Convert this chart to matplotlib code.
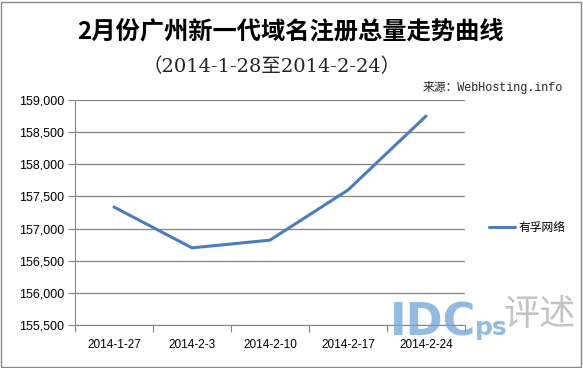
import matplotlib
matplotlib.use("Agg")
import matplotlib.pyplot as plt
from matplotlib.ticker import FuncFormatter, FixedLocator
import numpy as np

categories = ["2014-1-27", "2014-2-3", "2014-2-10", "2014-2-17", "2014-2-24"]
values = [157335, 156700, 156820, 157600, 158750]
series_name = "有孚网络"
yticks = [155500, 156000, 156500, 157000, 157500, 158000, 158500, 159000]

CJK = ["Noto Sans CJK SC", "DejaVu Sans"]
plt.rcParams['font.family'] = ["Liberation Sans", "Noto Sans CJK SC"]

W, H = 583, 368
fig = plt.figure(figsize=(W/100, H/100), dpi=100)
fig.patch.set_facecolor("white")

# outer border
fig.add_artist(plt.Rectangle((1/W, 1/H), 1-3/W, 1-3/H, transform=fig.transFigure,
                             fill=False, edgecolor="#888888", lw=1))

ax_l, ax_r = 75/W, 465/W
ax_t, ax_b = 1-100/H, 1-325/H
ax = fig.add_axes([ax_l, ax_b, ax_r-ax_l, ax_t-ax_b])

x = np.arange(len(categories))
ax.plot(x, values, color="#4A7EBB", lw=2.2, label=series_name, solid_capstyle="round")
ax.set_xlim(-0.5, len(categories)-0.5)
ax.set_ylim(yticks[0], yticks[-1])
ax.set_yticks(yticks)
ax.yaxis.set_major_formatter(FuncFormatter(lambda v, p: f"{int(v):,}"))
ax.xaxis.set_major_locator(FixedLocator(np.arange(-0.5, len(categories), 1.0)))
ax.set_xticklabels([])
ax.xaxis.set_minor_locator(FixedLocator(x))
ax.set_xticklabels(categories, minor=True)
ax.tick_params(axis="x", which="minor", length=0, pad=10, labelsize=8.5)
ax.tick_params(axis="x", which="major", length=5, color="#868686", direction="out")
ax.tick_params(axis="y", length=5, color="#868686", labelsize=9, pad=3)
ax.grid(axis="y", color="#868686", lw=0.9)
ax.set_axisbelow(True)
for s in ["top", "right"]:
    ax.spines[s].set_visible(False)
for s in ["left", "bottom"]:
    ax.spines[s].set_color("#868686")
ax.set_facecolor("none")

# titles
fig.text(290/W, 1-31/H, "2月份广州新一代域名注册总量走势曲线", ha="center", va="center",
         fontsize=17.5, fontweight="bold", family=CJK)
fig.text(272/W, 1-67/H, "（2014-1-28至2014-2-24）", ha="center", va="center",
         fontsize=14, family=["DejaVu Serif", "Noto Sans CJK SC"], color="#222222")
fig.text(563/W, 1-88/H, "来源：WebHosting.info", ha="right", va="center",
         fontsize=8.5, family=["Liberation Mono", "Noto Sans CJK SC"], color="#222222")

# legend
leg = fig.legend(loc="center left", bbox_to_anchor=(478/W, 1-228/H), frameon=False,
                 prop={"family": CJK, "size": 8.5}, handlelength=2.2, handletextpad=0.3)

# watermark
fig.text(390/W, 1-335/H, "IDC", ha="left", va="baseline", fontsize=32, fontweight="bold",
         color="#6FA3D8", alpha=0.75, family=["DejaVu Sans"])
fig.text(475/W, 1-335/H, "ps", ha="left", va="baseline", fontsize=18, fontweight="bold",
         color="#6FA3D8", alpha=0.75, family=["DejaVu Sans"])
fig.text(540/W, 1-315/H, "评述", ha="center", va="center", fontsize=26, color="#aaaaaa",
         alpha=0.7, family=CJK)

fig.savefig("out.png", dpi=100, facecolor="white")
